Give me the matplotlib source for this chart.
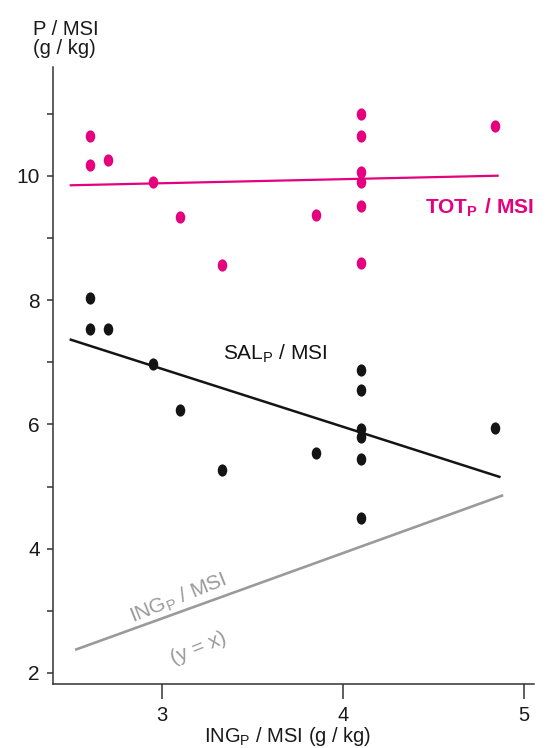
import matplotlib
matplotlib.use("Agg")
import matplotlib.pyplot as plt
from matplotlib.path import Path
from matplotlib.transforms import Affine2D
from matplotlib.ticker import FixedLocator, FuncFormatter

plt.rcParams["font.family"] = ["Liberation Sans", "DejaVu Sans"]
plt.rcParams["mathtext.fontset"] = "custom"
plt.rcParams["mathtext.rm"] = "Liberation Sans"
plt.rcParams["mathtext.bf"] = "Liberation Sans:bold"

# Ingested P per dry matter intake (x) and measured P contents (y)
tot_x = [2.60, 2.60, 2.70, 2.95, 3.10, 3.33, 3.85, 4.10, 4.10, 4.10, 4.10, 4.10, 4.10, 4.84]
tot_y = [10.65, 10.17, 10.25, 9.90, 9.34, 8.57, 9.37, 11.00, 10.65, 10.07, 9.91, 9.51, 8.60, 10.81]

sal_x = [2.60, 2.60, 2.70, 2.95, 3.10, 3.33, 3.85, 4.10, 4.10, 4.10, 4.10, 4.10, 4.10, 4.84]
sal_y = [8.04, 7.54, 7.54, 6.97, 6.24, 5.27, 5.54, 6.87, 6.56, 5.93, 5.80, 5.45, 4.50, 5.94]

# Fitted regression lines (end points)
tot_fit_x = [2.49, 4.86]
tot_fit_y = [9.85, 10.005]
sal_fit_x = [2.49, 4.87]
sal_fit_y = [7.37, 5.15]
ing_fit_x = [2.52, 4.885]
ing_fit_y = [2.37, 4.86]

x_ticks = [3, 4, 5]
y_ticks = [2, 3, 4, 5, 6, 7, 8, 9, 10, 11]

MAGENTA = "#E5007E"
BLACK = "#141414"
GRAY = "#9a9a9a"
AXIS = "#333333"

fig = plt.figure(figsize=(5.48, 7.48), dpi=100)
ax = fig.add_axes([53 / 548, 64 / 748, 481 / 548, 617 / 748])
ax.set_xlim(2.398, 5.055)
ax.set_ylim(1.82, 11.755)

# slightly tall elliptical dot
dot = Path.unit_circle().transformed(Affine2D().scale(0.78, 1.0))

ax.plot(ing_fit_x, ing_fit_y, color=GRAY, lw=1.9, solid_capstyle="butt", zorder=2)
ax.plot(sal_fit_x, sal_fit_y, color=BLACK, lw=1.8, solid_capstyle="butt", zorder=2)
ax.plot(tot_fit_x, tot_fit_y, color=MAGENTA, lw=1.6, solid_capstyle="butt", zorder=2)

ax.plot(tot_x, tot_y, linestyle="none", marker=dot, markersize=8.8,
        color=MAGENTA, markeredgewidth=0, zorder=3)
ax.plot(sal_x, sal_y, linestyle="none", marker=dot, markersize=8.8,
        color=BLACK, markeredgewidth=0, zorder=3)

ax.text(4.757, 9.485, r"$\mathbf{TOT_P\ /\ MSI}$",
        color=MAGENTA, fontsize=15, ha="center", va="center")
ax.text(3.624, 7.134, r"SAL$_\mathrm{P}$ / MSI", color=BLACK, fontsize=15,
        ha="center", va="center")
ax.text(3.088, 3.205, r"ING$_\mathrm{P}$ / MSI", color=GRAY, fontsize=15,
        ha="center", va="center", rotation=22, rotation_mode="anchor")
ax.text(3.204, 2.40, "(y = x)", color=GRAY, fontsize=15,
        ha="center", va="center", rotation=22, rotation_mode="anchor")

for side in ("top", "right"):
    ax.spines[side].set_visible(False)
for side in ("left", "bottom"):
    ax.spines[side].set_color(AXIS)
    ax.spines[side].set_linewidth(1.1)

ax.xaxis.set_major_locator(FixedLocator(x_ticks))
ax.yaxis.set_major_locator(FixedLocator(y_ticks))
ax.yaxis.set_major_formatter(FuncFormatter(lambda v, p: f"{int(v)}" if int(v) % 2 == 0 else ""))
ax.xaxis.set_major_formatter(FuncFormatter(lambda v, p: f"{int(v)}"))
ax.tick_params(axis="x", direction="out", length=10.5, width=1.1, color=AXIS,
               labelsize=14.5, pad=5, labelcolor="#1a1a1a")
ax.tick_params(axis="y", direction="out", length=4.5, width=1.1, color=AXIS,
               labelsize=15, pad=5, labelcolor="#1a1a1a")

fig.text(33 / 548, 1 - 20 / 748, "P / MSI\n(g / kg)", fontsize=14.5, ha="left",
         va="top", linespacing=1.0, color="#1a1a1a")
fig.text(288 / 548, 1 - 742 / 748, r"ING$_\mathrm{P}$ / MSI (g / kg)", fontsize=14.5,
         ha="center", va="baseline", color="#1a1a1a")

fig.savefig("out.png", dpi=100)
